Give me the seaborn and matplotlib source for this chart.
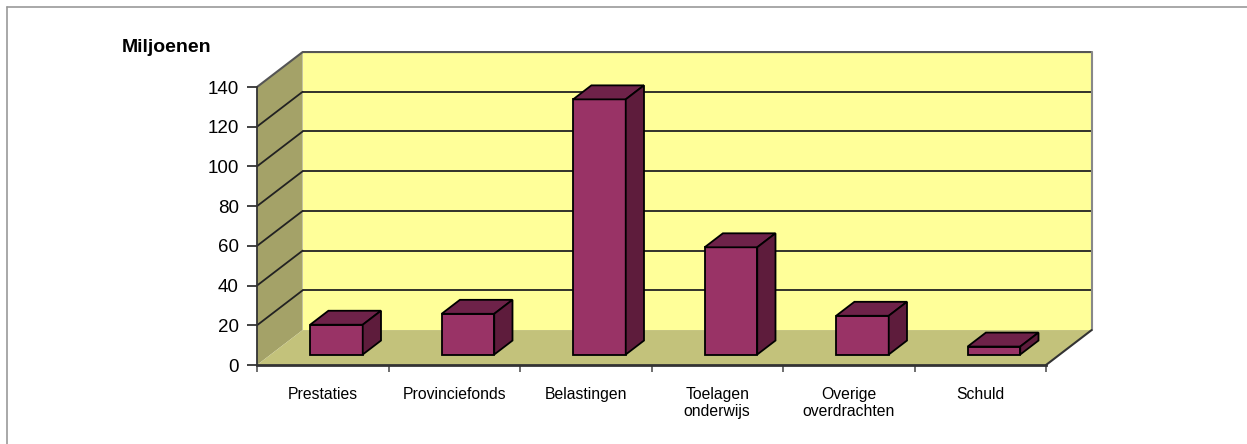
import numpy as np
import matplotlib
matplotlib.use("Agg")
import matplotlib.pyplot as plt
import matplotlib.transforms as mtransforms
from matplotlib.patches import Polygon
from matplotlib.lines import Line2D
import seaborn as sns

categories = ["Prestaties", "Provinciefonds", "Belastingen",
              "Toelagen\nonderwijs", "Overige\noverdrachten", "Schuld"]
values = [15, 20.5, 128.5, 54, 19.5, 4]
yticks = [0, 20, 40, 60, 80, 100, 120, 140]

sns.set_style("white")
plt.rcParams["font.family"] = ["Liberation Sans", "DejaVu Sans"]
plt.rcParams["text.color"] = "black"
plt.rcParams["xtick.labelcolor"] = "black"
plt.rcParams["ytick.labelcolor"] = "black"

W, H = 1247, 444
fig = plt.figure(figsize=(W / 100, H / 100), dpi=100)
ax = fig.add_axes([257 / W, 1 - 365 / H, (1046 - 257) / W, (365 - 87) / H])

# depth of the 3D box in data units
DX, DY = 0.347, 17.6
d0, bd = 0.3, 0.4   # bar position in depth and bar depth (fractions)

wall_c = "#FFFF99"
side_c = "#A4A268"
floor_c = "#C3C27B"
front_c = "#993366"
top_c = "#6E2249"
rside_c = "#5E1C3C"

ymax = yticks[-1]
x0, x1 = -0.5, len(categories) - 0.5

# walls and floor
ax.add_patch(Polygon([(x0 + DX, DY), (x1 + DX, DY), (x1 + DX, ymax + DY), (x0 + DX, ymax + DY)],
                     closed=True, facecolor=wall_c, edgecolor="none", zorder=0.5, clip_on=False))
ax.add_patch(Polygon([(x0, 0), (x0 + DX, DY), (x0 + DX, ymax + DY), (x0, ymax)],
                     closed=True, facecolor=side_c, edgecolor="none", zorder=0.5, clip_on=False))
ax.add_patch(Polygon([(x0, 0), (x1, 0), (x1 + DX, DY), (x0 + DX, DY)],
                     closed=True, facecolor=floor_c, edgecolor="none", zorder=0.6, clip_on=False))

# gridlines on back and side wall
for v in yticks[1:-1]:
    ax.plot([x0 + DX, x1 + DX], [v + DY, v + DY], color="#222222", lw=1.3, zorder=0.8, clip_on=False)
    ax.plot([x0, x0 + DX], [v, v + DY], color="#222222", lw=1.3, zorder=0.8, clip_on=False)
ax.plot([x0, x0 + DX, x1 + DX], [ymax, ymax + DY, ymax + DY], color="#555555", lw=1.5, zorder=0.9, clip_on=False)
ax.plot([x1 + DX, x1 + DX], [DY, ymax + DY], color="#888888", lw=1.5, zorder=0.9, clip_on=False)
ax.plot([x1, x1 + DX], [0, DY], color="#333333", lw=1.5, zorder=0.9, clip_on=False)

# front faces through seaborn, then top and side faces from each bar
sns.barplot(x=categories, y=values, color=front_c, saturation=1, width=0.4,
            edgecolor="black", linewidth=1.3, ax=ax)

shift = mtransforms.Affine2D().translate(d0 * DX, d0 * DY) + ax.transData
for bar in ax.containers[0]:
    bar.set_transform(shift)
    bar.set_zorder(3)
    bar.set_clip_on(False)
    x, w, h = bar.get_x(), bar.get_width(), bar.get_height()
    bx, by = bd * DX, bd * DY
    top = Polygon([(x, h), (x + w, h), (x + w + bx, h + by), (x + bx, h + by)], closed=True,
                  facecolor=top_c, edgecolor="black", lw=1.3, zorder=3, clip_on=False, transform=shift)
    side = Polygon([(x + w, 0), (x + w + bx, by), (x + w + bx, h + by), (x + w, h)], closed=True,
                   facecolor=rside_c, edgecolor="black", lw=1.3, zorder=3, clip_on=False, transform=shift)
    ax.add_patch(top)
    ax.add_patch(side)

ax.set_xlim(x0, x1)
ax.set_ylim(0, ymax)
ax.set_yticks(yticks)
ax.tick_params(axis="y", labelsize=13.5, length=7, width=1.2, color="#222222", pad=6, left=True)
ax.set_xticks(range(len(categories)))
ax.set_xticklabels(categories, fontsize=11.3, linespacing=1.15)
ax.tick_params(axis="x", length=0, pad=16)
ax.set_xticks(np.arange(x0, x1 + 0.5, 1), minor=True)
ax.tick_params(axis="x", which="minor", length=5, width=1.2, color="#555555", bottom=True)
ax.set_xlabel("")
ax.set_ylabel("")
for s in ["top", "right"]:
    ax.spines[s].set_visible(False)
ax.spines["left"].set_color("#333333")
ax.spines["left"].set_linewidth(1.3)
ax.spines["bottom"].set_color("#333333")
ax.spines["bottom"].set_linewidth(2)
ax.patch.set_visible(False)

fig.text(122 / W, 1 - 47 / H, "Miljoenen", fontsize=14, fontweight="bold", va="center", ha="left")

# outer frame (top and left only visible)
fig.add_artist(Line2D([7 / W, 1], [1 - 7 / H, 1 - 7 / H], color="#999999", lw=1.2, transform=fig.transFigure))
fig.add_artist(Line2D([7 / W, 7 / W], [0, 1 - 7 / H], color="#999999", lw=1.2, transform=fig.transFigure))

fig.savefig("out.png", dpi=100)
